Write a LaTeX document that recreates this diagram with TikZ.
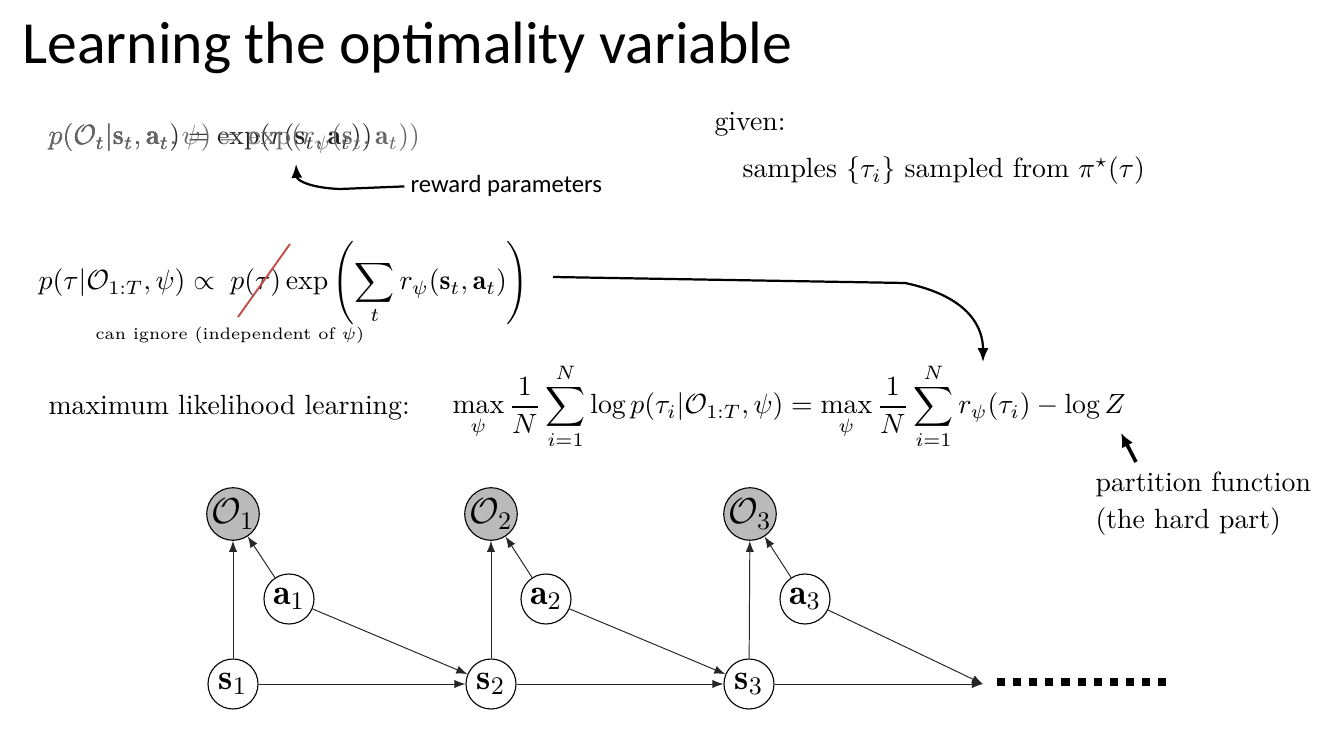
\documentclass[tikz,border=0pt]{standalone}
\usepackage{fix-cm}
\usepackage{amsmath}
\usepackage{fontspec}
\newfontfamily\calibri{Carlito}
\usetikzlibrary{arrows.meta}
\definecolor{strikered}{RGB}{192,80,77}

\begin{document}
\begin{tikzpicture}[x=0.36pt,y=-0.36pt]
  \useasboundingbox (0,0) rectangle (1334,750);

  \begin{scope}[every node/.style={anchor=base west,inner sep=0pt}]
    \node (title) at (22,64) {\calibri\fontsize{21.5}{26}\selectfont Learning the optimality variable};
    \node[text=black!85] (obs) at (48,145) {$p(\mathcal{O}_t|\mathbf{s}_t,\mathbf{a}_t)=\exp(r(\mathbf{s}_t,\mathbf{a}_t))$};
    \node[text=black!60] (obspsi) at (48,145) {$p(\mathcal{O}_t|\mathbf{s}_t,\mathbf{a}_t,\psi)=\exp(r_\psi(\mathbf{s}_t,\mathbf{a}_t))$};
    \node (reward) at (410,193) {\calibri\fontsize{8.9}{11}\selectfont reward parameters};
    \node (given) at (714,131) {given:};
    \node (samples) at (742,178) {samples $\{\tau_i\}$ sampled from $\pi^\star(\tau)$};
    \node (traj) at (38,290) {$\displaystyle p(\tau|\mathcal{O}_{1:T},\psi)\propto\; p(\tau)\exp\left(\sum_t r_\psi(\mathbf{s}_t,\mathbf{a}_t)\right)$};
    \node (ignore) at (95,340) {\fontsize{6}{7.5}\selectfont can ignore (independent of $\psi$)};
    \node (mll) at (48,415) {maximum likelihood learning:};
    \node (maxf) at (452,414) {$\displaystyle \max_\psi\frac{1}{N}\sum_{i=1}^N\log p(\tau_i|\mathcal{O}_{1:T},\psi)=\max_\psi\frac{1}{N}\sum_{i=1}^N r_\psi(\tau_i)-\log Z$};
    \node[align=left] (part) at (1095,529) {partition function\\[1.6pt](the hard part)};
  \end{scope}

  % strike and arrows
  \draw[strikered,line width=0.7pt] (238,317) -- (290,244);
  \coordinate (rpsi) at (296,164);
  \coordinate (rtarget) at (983,362);
  \coordinate (ztail) at (1136,462);
  \coordinate (ztip) at (1121,433);
  \draw[line width=0.8pt,-{Latex[length=5pt,width=4pt]}] ([xshift=-2pt]reward.west) -- (340,189) .. controls (312,188) and (297,181) .. (rpsi);
  \draw[line width=0.8pt,-{Latex[length=5pt,width=4pt]}] (553,277) -- (905,283) .. controls (972,297) and (983,330) .. (rtarget);
  \draw[line width=1.3pt,-{Latex[length=5pt,width=4.5pt]}] (ztail) -- (ztip);

  % graphical model
  \begin{scope}[every node/.style={circle,draw,thin,minimum size=18pt,inner sep=0pt,font=\fontsize{13}{15}\selectfont}]
    \node[fill=black!27] (o1) at (233,514) {$\mathcal{O}_1$};
    \node (a1) at (289,599) {$\mathbf{a}_1$};
    \node (s1) at (233,684) {$\mathbf{s}_1$};
    \node[fill=black!27] (o2) at (491,514) {$\mathcal{O}_2$};
    \node (a2) at (546,599) {$\mathbf{a}_2$};
    \node (s2) at (491,684) {$\mathbf{s}_2$};
    \node[fill=black!27] (o3) at (750,514) {$\mathcal{O}_3$};
    \node (a3) at (805,599) {$\mathbf{a}_3$};
    \node (s3) at (749,684) {$\mathbf{s}_3$};
  \end{scope}
  \coordinate (end) at (983,684);

  \begin{scope}[every edge/.style={draw,black!85,line width=0.35pt,-{Latex[length=4pt,width=3pt]}}]
    \path (s1) edge (o1);
    \path (a1) edge (o1);
    \path (s2) edge (o2);
    \path (a2) edge (o2);
    \path (s3) edge (o3);
    \path (a3) edge (o3);
    \path (s1) edge (s2);
    \path (a1) edge (s2);
    \path (s2) edge (s3);
    \path (a2) edge (s3);
    \path (s3) edge (end);
    \path (a3) edge (end);
  \end{scope}

  \draw[line width=2.9pt,dash pattern=on 2.9pt off 2.9pt] (997,682) -- (1170,682);

\end{tikzpicture}
\end{document}
